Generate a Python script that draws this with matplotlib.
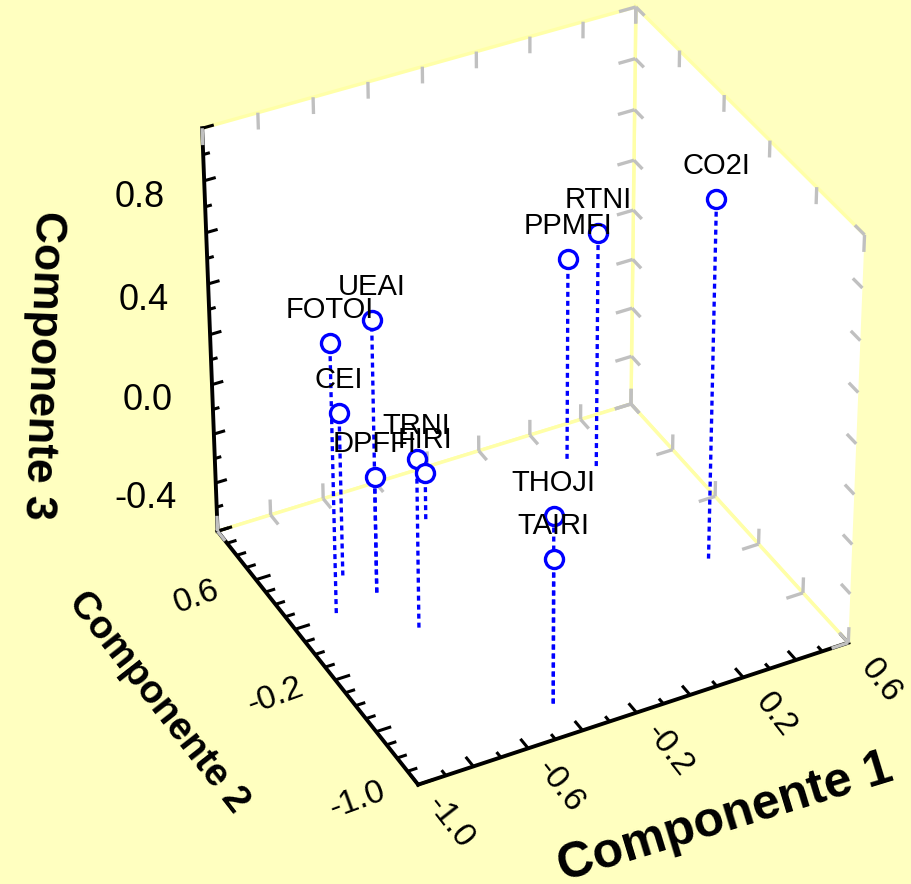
import matplotlib
matplotlib.use("Agg")
import matplotlib.pyplot as plt
import numpy as np
from mpl_toolkits.mplot3d import proj3d
from mpl_toolkits.mplot3d.art3d import Line3DCollection

# loadings (Componente 1, 2, 3)
names = ["FOTOI", "UEAI", "CEI", "DPFFI", "TRNI", "FIRI",
         "PPMFI", "RTNI", "CO2I", "THOJI", "TAIRI"]
comp1 = [-0.84, -0.67, -0.73, -0.67, -0.63, -0.34, 0.25, 0.32, 0.41, -0.42, -0.42]
comp2 = [0.02, 0.07, 0.25, 0.07, -0.24, 0.45, 0.56, 0.45, -0.39, -0.98, -0.98]
comp3 = [0.58, 0.59, 0.16, -0.03, 0.18, -0.31, 0.32, 0.45, 0.93, 0.25, 0.08]

xlim = (-1.0, 0.6)
ylim = (-1.2, 0.8)
zlim = (-0.5, 1.1)
xlabels = [-1.0, -0.6, -0.2, 0.2, 0.6]
ylabels = [-1.0, -0.2, 0.6]
zlabels = [-0.4, 0.0, 0.4, 0.8]

bg = "#FFFFC0"
edge_yellow = "#FFFFA8"
grey = "#C0C0C0"
plt.rcParams["font.family"] = ["Liberation Sans", "DejaVu Sans"]

fig = plt.figure(figsize=(9.12, 8.84), dpi=100, facecolor=bg)
ax = fig.add_axes([0.067, 0.047, 1, 1], projection="3d", computed_zorder=False)
ax.set_facecolor(bg)
ax.patch.set_alpha(0)
ax.set_proj_type("persp", focal_length=1.25)
ax.view_init(elev=35.8, azim=-117.5)
ax.set_box_aspect((0.955, 0.91, 0.98), zoom=0.92)

ax.set_xlim(*xlim)
ax.set_ylim(*ylim)
ax.set_zlim(*zlim)
ax.set_xticks([])
ax.set_yticks([])
ax.set_zticks([])

for axis in (ax.xaxis, ax.yaxis, ax.zaxis):
    axis.set_pane_color((1, 1, 1, 1))
    axis.pane.set_edgecolor(edge_yellow)
    axis.pane.set_linewidth(2.5)
    axis.line.set_color("black")
    axis.line.set_linewidth(2.8)
ax.grid(False)

x0, x1 = xlim
y0, y1 = ylim
z0, z1 = zlim
sx, sy, sz = x1 - x0, y1 - y0, z1 - z0

xt = np.round(np.arange(x0, x1 + 1e-9, 0.1), 2)
yt = np.round(np.arange(y0, y1 + 1e-9, 0.1), 2)
zt = np.round(np.arange(z0, z1 + 1e-9, 0.1), 2)

# black ticks on the front axes, pointing into the box
black = []
for i, x in enumerate(xt):
    L = (0.036 if i % 2 == 0 else 0.02) * sy
    black.append([(x, y0, z0), (x, y0 + L, z0)])
for i, y in enumerate(yt):
    L = (0.034 if i % 4 == 0 else 0.022) * sx
    black.append([(x0, y, z0), (x0 + L, y, z0)])
for i, z in enumerate(zt):
    L = (0.026 if i % 2 == 0 else 0.015) * sx
    black.append([(x0, y1, z), (x0 + L, y1, z)])
ax.add_collection3d(Line3DCollection(black, colors="black", linewidths=2.2, zorder=2))

# grey ticks on the back edges of the box
gl = 0.04
gr = []
for x in xt[::2]:
    gr.append([(x, y1, z1), (x, y1, z1 - gl * sz)])
    gr.append([(x, y1, z0), (x, y1 - gl * sy, z0)])
    gr.append([(x, y1, z0), (x, y1, z0 + gl * sz)])
for y in yt[::4]:
    gr.append([(x1, y, z1), (x1, y, z1 - gl * sz)])
    gr.append([(x1, y, z0), (x1 - gl * sx, y, z0)])
    gr.append([(x1, y, z0), (x1, y, z0 + gl * sz)])
for z in zt[::2]:
    gr.append([(x1, y0, z), (x1, y0 + gl * sy, z)])
    gr.append([(x1, y1, z), (x1 - gl * sx, y1, z)])
    gr.append([(x1, y1, z), (x1, y1 - gl * sy, z)])
ax.add_collection3d(Line3DCollection(gr, colors=grey, linewidths=2.4, zorder=2))

# data: drop lines (drawn up from the floor so shared lines keep one dash phase)
for x, y, z in zip(comp1, comp2, comp3):
    ax.plot([x, x], [y, y], [z0, z], color="blue", lw=2.4,
            linestyle=(0, (1.5, 1.2)), zorder=3)
ax.plot(comp1, comp2, comp3, linestyle="none", marker="o", markersize=13,
        markerfacecolor="white", markeredgecolor="blue", markeredgewidth=2.4,
        zorder=4)

M = ax.get_proj()


def to2d(x, y, z):
    px, py, _ = proj3d.proj_transform(x, y, z, M)
    return px, py


for n, x, y, z in zip(names, comp1, comp2, comp3):
    ax.annotate(n, to2d(x, y, z), xytext=(0, 25), textcoords="offset pixels",
                ha="center", va="baseline", fontsize=21, zorder=6)

# tick labels
for v in zlabels:
    ax.annotate(f"{v:.1f}", to2d(x0, y1, v), xytext=(-40, 9),
                textcoords="offset pixels", ha="right", va="center", fontsize=26)
for v in xlabels:
    ax.annotate(f"{v:.1f}", to2d(v, y0, z0), xytext=(32, -38),
                textcoords="offset pixels", ha="center", va="center",
                rotation=-52, fontsize=24)
for v in ylabels:
    ax.annotate(f"{v:.1f}", to2d(x0, v, z0), xytext=(-40, -42),
                textcoords="offset pixels", ha="center", va="center",
                rotation=20, fontsize=24)

# axis titles
fig.text(42 / 912, 1 - 365 / 884, "Componente 3", rotation=-92, fontsize=32,
         fontweight="bold", ha="center", va="center")
fig.text(158 / 912, 1 - 702 / 884, "Componente 2", rotation=-52, fontsize=28,
         fontweight="bold", ha="center", va="center")
fig.text(725 / 912, 1 - 818 / 884, "Componente 1", rotation=17, fontsize=36,
         fontweight="bold", ha="center", va="center")

fig.savefig("out.png", dpi=100, facecolor=bg)
